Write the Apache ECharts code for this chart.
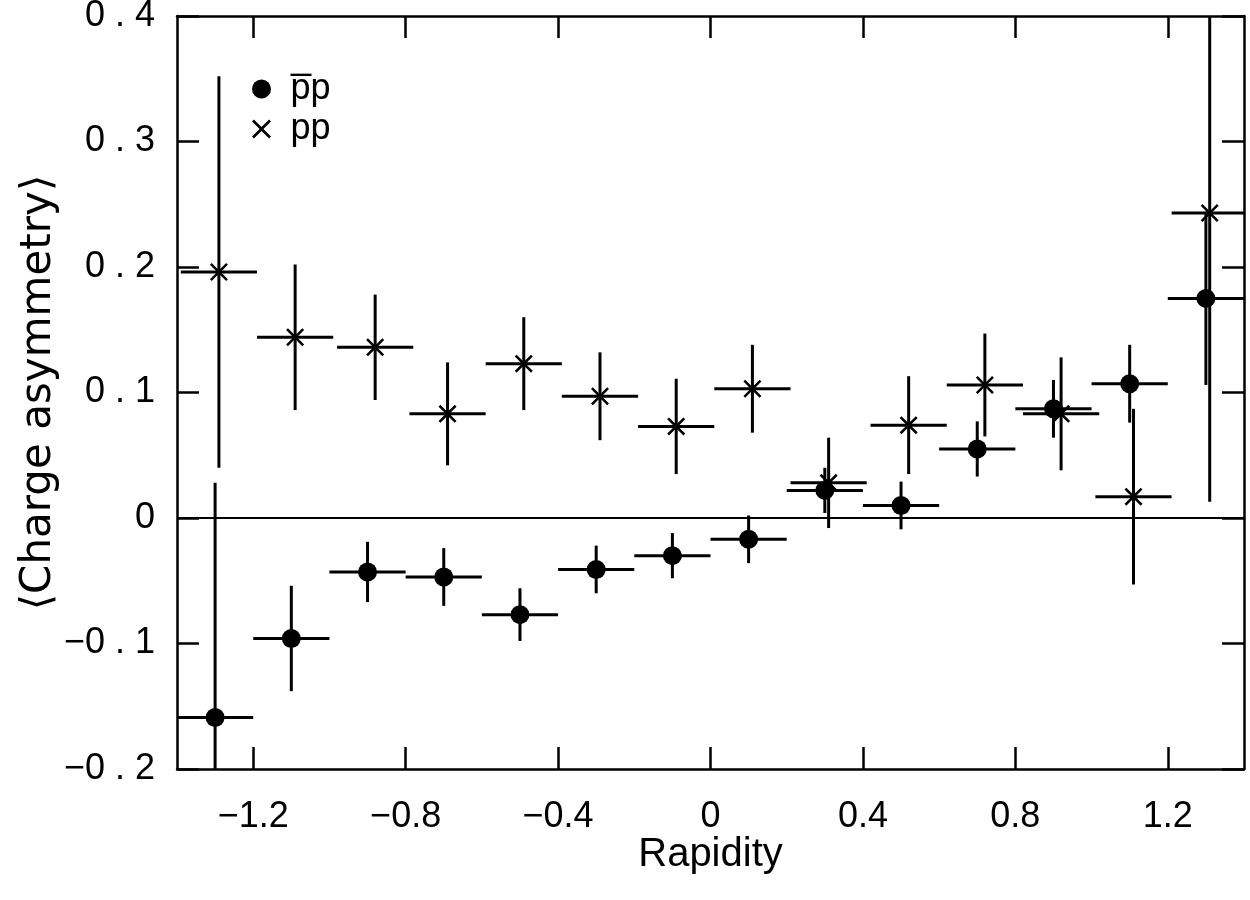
<!DOCTYPE html>
<html>
<head>
<meta charset="utf-8">
<script src="https://cdn.jsdelivr.net/npm/echarts@6/dist/echarts.min.js"></script>
<style>html,body{margin:0;padding:0;background:#fff;}#c{width:1250px;height:900px;}</style>
</head>
<body>
<div id="c"></div>
<script>
// ---- data ----
var xTicks = [-1.2, -0.8, -0.4, 0, 0.4, 0.8, 1.2];
var yTicksInterval = 0.1;
// pbar-p (filled dots)
var pbarpX = [-1.3, -1.1, -0.9, -0.7, -0.5, -0.3, -0.1, 0.1, 0.3, 0.5, 0.7, 0.9, 1.1, 1.3];
var pbarpY = [-0.159, -0.096, -0.043, -0.047, -0.077, -0.041, -0.030, -0.017, 0.022, 0.010, 0.055, 0.087, 0.107, 0.175];
var pbarpErr = [0.187, 0.042, 0.024, 0.023, 0.021, 0.019, 0.018, 0.019, 0.018, 0.019, 0.022, 0.023, 0.031, 0.069];
// pp (crosses)
var ppX = [-1.29, -1.09, -0.88, -0.69, -0.49, -0.29, -0.09, 0.11, 0.31, 0.52, 0.72, 0.92, 1.11, 1.31];
var ppY = [0.196, 0.144, 0.136, 0.083, 0.123, 0.097, 0.073, 0.103, 0.028, 0.074, 0.106, 0.083, 0.017, 0.243];
var ppErr = [0.156, 0.058, 0.042, 0.041, 0.037, 0.035, 0.038, 0.035, 0.036, 0.039, 0.041, 0.045, 0.070, 0.230];
var halfBin = 0.1;
var xMin = -1.4, xMax = 1.4, yMin = -0.2, yMax = 0.4;

var SANS = '"Liberation Sans", Arial, sans-serif';
var DEJAVU = '"DejaVu Sans", sans-serif';
var crossPath = 'path://M2,0 L10,8 L18,0 L20,2 L12,10 L20,18 L18,20 L10,12 L2,20 L0,18 L8,10 L0,2 Z';

function triples(xs, ys, es) { return xs.map(function (x, i) { return [x, ys[i], es[i]]; }); }
function pairs(xs, ys) { return xs.map(function (x, i) { return [x, ys[i]]; }); }

function renderBars(params, api) {
  var x = api.value(0), y = api.value(1), e = api.value(2);
  var lo = Math.max(yMin, y - e), hi = Math.min(yMax, y + e);
  var l = Math.max(xMin, x - halfBin), r = Math.min(xMax, x + halfBin);
  var p1 = api.coord([x, lo]), p2 = api.coord([x, hi]);
  var p3 = api.coord([l, y]), p4 = api.coord([r, y]);
  var st = { stroke: '#000', lineWidth: 3 };
  return {
    type: 'group',
    children: [
      { type: 'line', shape: { x1: p1[0], y1: p1[1], x2: p2[0], y2: p2[1] }, style: st },
      { type: 'line', shape: { x1: p3[0], y1: p3[1], x2: p4[0], y2: p4[1] }, style: st }
    ]
  };
}

function fmtY(v) {
  var r = Math.round(v * 10) / 10;
  if (r === 0) return '0';
  var a = Math.abs(r).toFixed(1);
  var s = a.charAt(0) + ' . ' + a.charAt(2);
  return r < 0 ? '\u2212' + s : s;
}
function fmtX(v) {
  var r = Math.round(v * 10) / 10;
  if (r === 0) return '0';
  return r.toFixed(1).replace('-', '\u2212');
}

var axisLineStyle = { color: '#000', width: 2.5 };
var tickStyle = { color: '#000', width: 2.5 };

var chart = echarts.init(document.getElementById('c'), null, { renderer: 'canvas' });
chart.setOption({
  animation: false,
  backgroundColor: '#fff',
  grid: { left: 177, right: 6, top: 16, bottom: 131, containLabel: false, outerBoundsMode: 'none' },
  legend: {
    orient: 'vertical',
    left: 247, top: 66,
    itemWidth: 34, itemHeight: 19, itemGap: 4,
    data: ['p\u0305p', 'pp'],
    textStyle: { fontFamily: SANS, fontSize: 36, color: '#000', padding: [0, 0, 0, 7] },
    selectedMode: false
  },
  xAxis: [
    {
      type: 'value', min: xMin, max: xMax, position: 'bottom',
      name: 'Rapidity', nameLocation: 'middle', nameGap: 66, nameMoveOverlap: false,
      nameTextStyle: { fontFamily: SANS, fontSize: 40, color: '#000' },
      axisLine: { show: true, onZero: false, lineStyle: axisLineStyle },
      axisTick: { show: true, inside: true, length: 22, lineStyle: tickStyle, customValues: xTicks },
      axisLabel: { show: true, margin: 30, fontFamily: SANS, fontSize: 36, color: '#000', customValues: xTicks, formatter: fmtX },
      splitLine: { show: false }
    },
    {
      type: 'value', min: xMin, max: xMax, position: 'top',
      axisLine: { show: true, onZero: false, lineStyle: axisLineStyle },
      axisTick: { show: true, inside: true, length: 22, lineStyle: tickStyle, customValues: xTicks },
      axisLabel: { show: false, customValues: xTicks },
      splitLine: { show: false }
    }
  ],
  yAxis: [
    {
      type: 'value', min: yMin, max: yMax, interval: yTicksInterval, position: 'left',
      name: '\u27E8Charge asymmetry\u27E9', nameLocation: 'middle', nameGap: 117, nameRotate: 90, nameMoveOverlap: false,
      nameTextStyle: { fontFamily: DEJAVU, fontSize: 42, color: '#000' },
      axisLine: { show: true, onZero: false, lineStyle: axisLineStyle },
      axisTick: { show: true, inside: true, length: 22, lineStyle: tickStyle },
      axisLabel: { show: true, margin: 22, fontFamily: SANS, fontSize: 36, color: '#000', formatter: fmtY },
      splitLine: { show: false }
    },
    {
      type: 'value', min: yMin, max: yMax, interval: yTicksInterval, position: 'right',
      axisLine: { show: true, onZero: false, lineStyle: axisLineStyle },
      axisTick: { show: true, inside: true, length: 22, lineStyle: tickStyle },
      axisLabel: { show: false },
      splitLine: { show: false }
    }
  ],
  series: [
    {
      type: 'custom', renderItem: renderBars, data: triples(pbarpX, pbarpY, pbarpErr),
      encode: { x: 0, y: 1 }, z: 2, silent: true,
      markLine: {
        silent: true, symbol: ['none', 'none'], label: { show: false },
        lineStyle: { color: '#000', type: 'solid', width: 2 },
        data: [{ yAxis: 0 }]
      }
    },
    {
      type: 'custom', renderItem: renderBars, data: triples(ppX, ppY, ppErr),
      encode: { x: 0, y: 1 }, z: 2, silent: true
    },
    {
      name: 'p\u0305p', type: 'scatter', data: pairs(pbarpX, pbarpY),
      symbol: 'circle', symbolSize: 19, z: 3,
      itemStyle: { color: '#000', opacity: 1 }
    },
    {
      name: 'pp', type: 'scatter', data: pairs(ppX, ppY),
      symbol: crossPath, symbolSize: 18, z: 3,
      itemStyle: { color: '#000', opacity: 1 }
    }
  ]
});
</script>
</body>
</html>
